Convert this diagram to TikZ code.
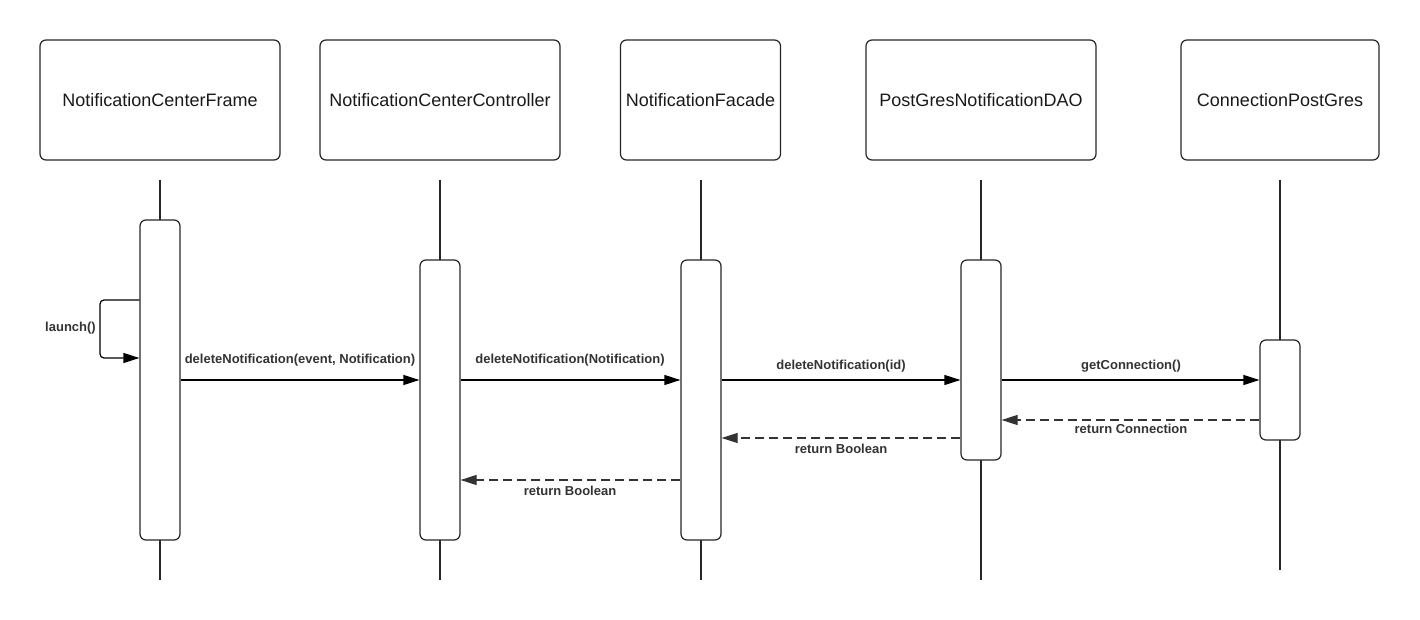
\documentclass[tikz,border=0pt]{standalone}
\usepackage{fontspec}
\setmainfont{Liberation Sans}
\usetikzlibrary{arrows.meta}
\definecolor{txt}{HTML}{333333}
\begin{document}
\begin{tikzpicture}[x=1pt,y=-1pt,
  objbox/.style={draw=black!85,line width=1.2pt,rounded corners=6pt,minimum width=#1,minimum height=120pt,inner sep=0pt,font=\fontsize{18}{20}\selectfont,text=black!90},
  actbar/.style={draw=black!85,line width=1.2pt,rounded corners=6pt,fill=white},
  life/.style={draw=black!85,line width=1.2pt},
  msg/.style={draw=black,line width=1.2pt,-{Triangle[length=16pt,width=10pt]}},
  ret/.style={draw=black!80,line width=1.2pt,dash pattern=on 9pt off 5pt,-{Triangle[length=16pt,width=10pt]}},
  lbl/.style={font=\bfseries\fontsize{13}{15}\selectfont,text=txt,inner sep=0pt}]
\useasboundingbox (0,0) rectangle (1420,620);
% header boxes
\node[objbox=240pt] (o1) at (160,100) {NotificationCenterFrame};
\node[objbox=240pt] (o2) at (440,100) {NotificationCenterController};
\node[objbox=160pt] (o3) at (700.5,100) {NotificationFacade};
\node[objbox=230pt] (o4) at (981,100) {PostGresNotificationDAO};
\node[objbox=198pt] (o5) at (1280,100) {ConnectionPostGres};
% lifelines
\coordinate (l1t) at (160,180); \coordinate (l1b) at (160,580);
\coordinate (l2t) at (440,180); \coordinate (l2b) at (440,580);
\coordinate (l3t) at (701,180); \coordinate (l3b) at (701,580);
\coordinate (l4t) at (981,180); \coordinate (l4b) at (981,580);
\coordinate (l5t) at (1280,180); \coordinate (l5b) at (1280,570);
\draw[life] (l1t) -- (l1b);
\draw[life] (l2t) -- (l2b);
\draw[life] (l3t) -- (l3b);
\draw[life] (l4t) -- (l4b);
\draw[life] (l5t) -- (l5b);
% activation bars
\node[actbar,minimum width=40pt,minimum height=320pt,inner sep=0pt] (a1) at (160,380) {};
\node[actbar,minimum width=40pt,minimum height=280pt,inner sep=0pt] (a2) at (440,400) {};
\node[actbar,minimum width=40pt,minimum height=280pt,inner sep=0pt] (a3) at (701,400) {};
\node[actbar,minimum width=40pt,minimum height=200pt,inner sep=0pt] (a4) at (981,360) {};
\node[actbar,minimum width=40pt,minimum height=100pt,inner sep=0pt] (a5) at (1280,390) {};
% self loop
\draw[msg,rounded corners=4pt] (a1.west |- 0,300) -- (100,300) -- (100,358) -- (a1.west |- 0,358);
\node[lbl,anchor=east] (t0) at (96,328) {launch()};
% messages
\draw[msg] (a1.east |- 0,380) -- (a2.west |- 0,380);
\node[lbl] (t1) at (300,360) {deleteNotification(event, Notification)};
\draw[msg] (a2.east |- 0,380) -- (a3.west |- 0,380);
\node[lbl] (t2) at (570,360) {deleteNotification(Notification)};
\draw[msg] (a3.east |- 0,380) -- (a4.west |- 0,380);
\node[lbl] (t3) at (841,366) {deleteNotification(id)};
\draw[msg] (a4.east |- 0,380) -- (a5.west |- 0,380);
\node[lbl] (t4) at (1131,366) {getConnection()};
% returns
\draw[ret] (a5.west |- 0,420) -- (a4.east |- 0,420);
\node[lbl] (t5) at (1131,429) {return Connection};
\draw[ret] (a4.west |- 0,438) -- (a3.east |- 0,438);
\node[lbl] (t6) at (841,449) {return Boolean};
\draw[ret] (a3.west |- 0,480) -- (a2.east |- 0,480);
\node[lbl] (t7) at (570,491) {return Boolean};
\end{tikzpicture}
\end{document}
